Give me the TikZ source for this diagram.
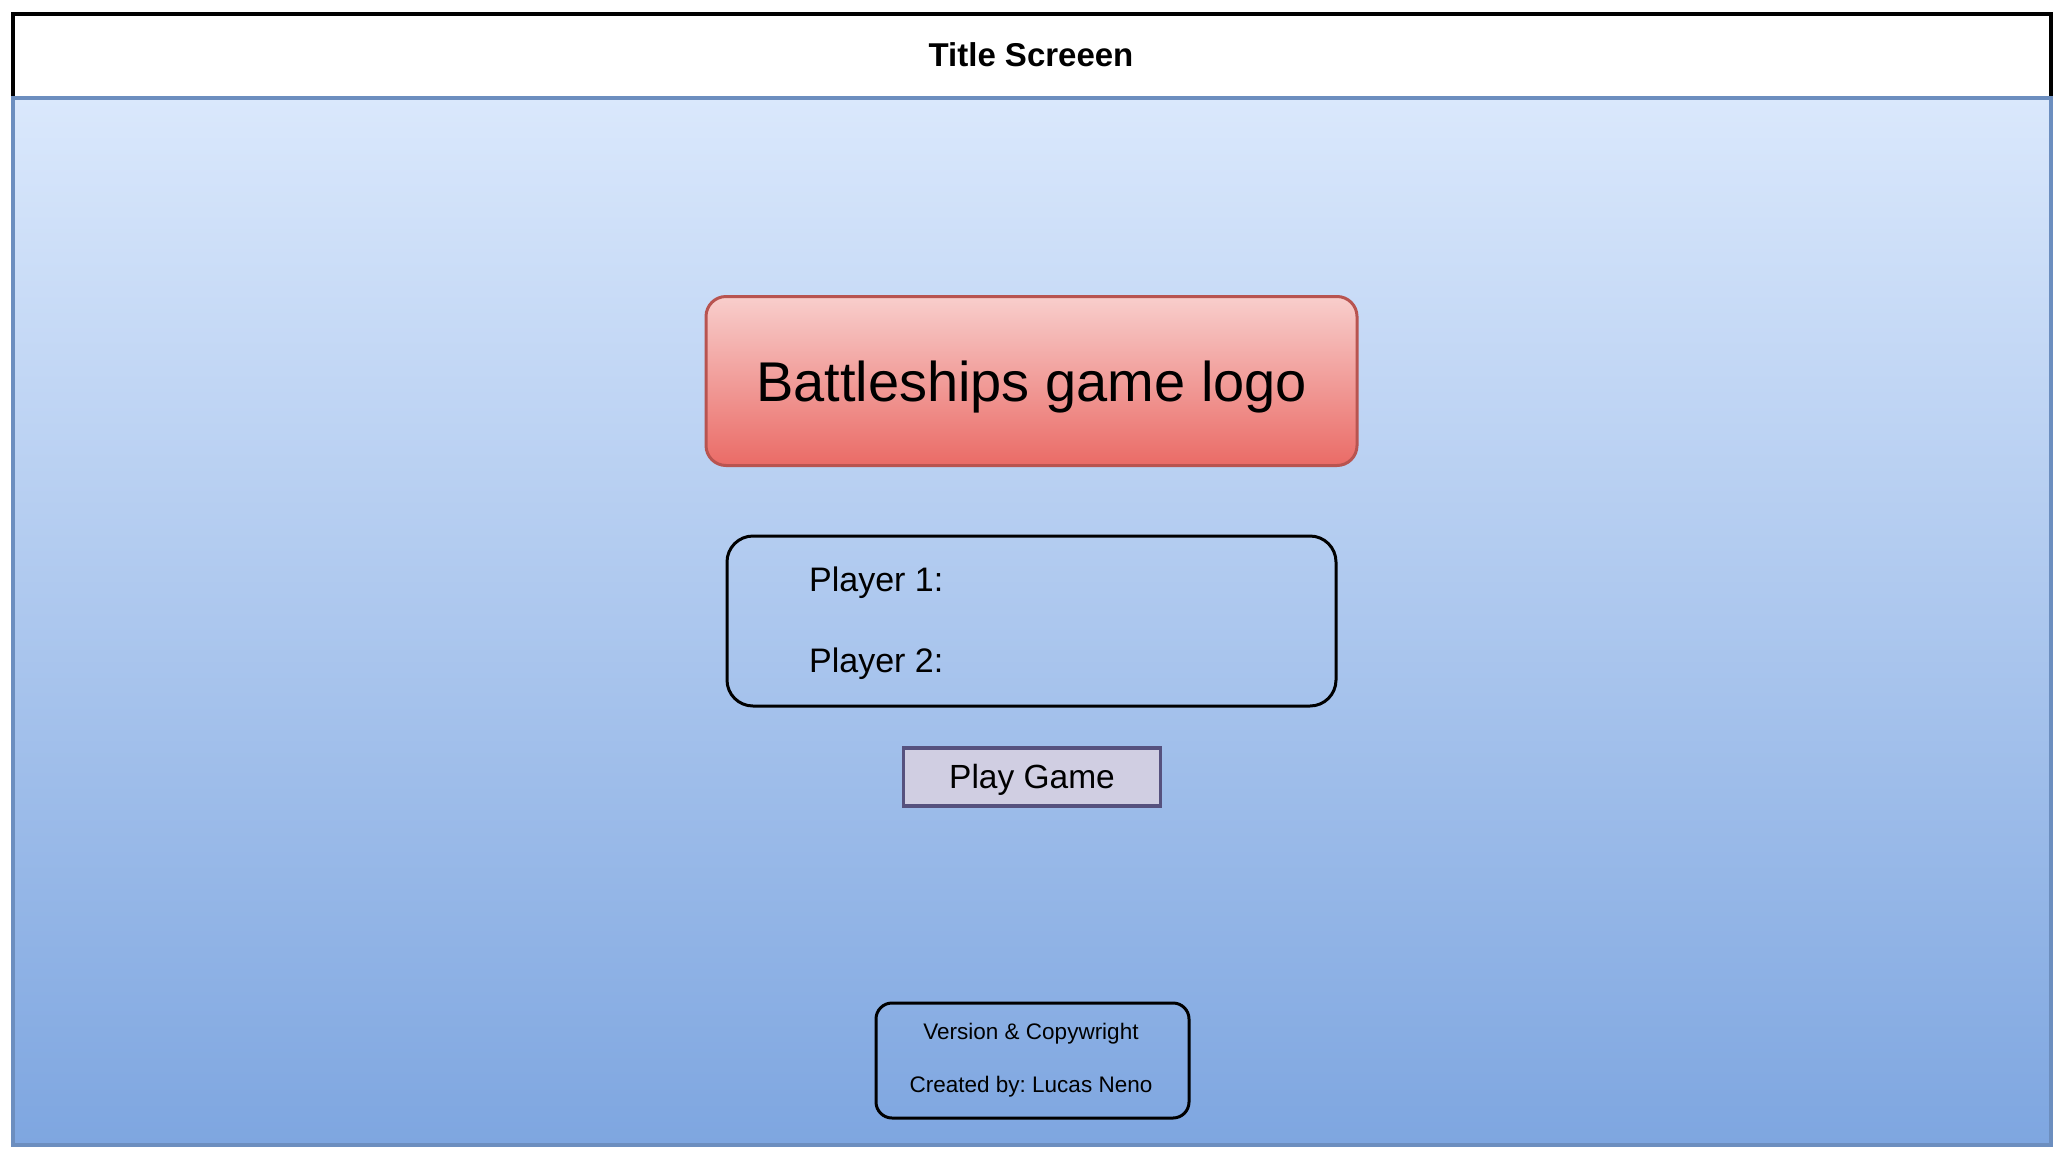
\documentclass[tikz,border=0pt]{standalone}
\usepackage{fontspec}
\setmainfont{Liberation Sans}
\frenchspacing
\definecolor{bodytop}{RGB}{218,232,252}
\definecolor{bodybot}{RGB}{126,166,224}
\definecolor{bodyline}{RGB}{108,142,191}
\definecolor{logotop}{RGB}{248,206,204}
\definecolor{logobot}{RGB}{234,107,102}
\definecolor{logoline}{RGB}{184,84,80}
\definecolor{btnfill}{RGB}{208,206,226}
\definecolor{btnline}{RGB}{86,81,126}
\tikzset{
  panel/.style={rectangle, inner sep=0pt, outer sep=0pt},
  screenbody/.style={panel, draw=bodyline, line width=3.5pt, top color=bodytop, bottom color=bodybot},
  titlebar/.style={panel, draw=black, line width=4pt, fill=white},
  logobox/.style={panel, draw=logoline, line width=3pt, rounded corners=20pt, top color=logotop, bottom color=logobot},
  outlinebox/.style={panel, draw=black, line width=3pt},
  label/.style={inner sep=0pt, anchor=west, font=\fontsize{34}{40}\selectfont},
  smalllabel/.style={inner sep=0pt, font=\fontsize{22.5}{27}\selectfont},
  button/.style={panel, draw=btnline, line width=3.5pt, fill=btnfill},
}
\begin{document}
\begin{tikzpicture}[x=1pt, y=-1pt]
  \useasboundingbox (0,0) rectangle (2066,1165);
  % title bar, its lower edge covered by the screen body
  \node[titlebar, minimum width=2038pt, minimum height=84pt, anchor=north west] (title) at (13,14) {};
  % screen body with vertical gradient
  \node[screenbody, minimum width=2038pt, minimum height=1047pt, anchor=north west] (body) at (13,98) {};
  \node[inner sep=0pt, font=\fontsize{33}{40}\selectfont\bfseries] (titletext) at (1031,55) {Title Screeen};
  % logo placeholder
  \node[logobox, minimum width=651pt, minimum height=169pt] (logo) at (1031.5,381) {};
  \node[inner sep=0pt, font=\fontsize{56}{66}\selectfont] (logotext) at (1031.5,387) {Battleships game logo};
  % player names box
  \node[outlinebox, rounded corners=26pt, minimum width=609pt, minimum height=170pt] (players) at (1031.5,621) {};
  \node[label] (p1) at (809,583) {Player 1:};
  \node[label] (p2) at (809,664) {Player 2:};
  % play button
  \node[button, minimum width=257pt, minimum height=58pt] (play) at (1032,777) {};
  \node[inner sep=0pt, font=\fontsize{33.5}{40}\selectfont] (playtext) at (1032,779.5) {Play Game};
  % footer
  \node[outlinebox, rounded corners=16pt, minimum width=313pt, minimum height=115pt] (footer) at (1032.5,1060.5) {};
  \node[smalllabel] (version) at (1031,1034) {Version \& Copywright};
  \node[smalllabel] (author) at (1031,1087) {Created by: Lucas Neno};
\end{tikzpicture}
\end{document}
